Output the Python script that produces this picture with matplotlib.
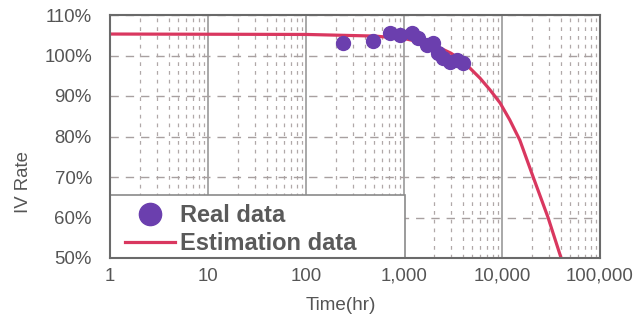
import matplotlib
matplotlib.use("Agg")
import matplotlib.pyplot as plt
from matplotlib.patches import Rectangle
from matplotlib.ticker import FixedLocator, LogLocator, NullFormatter

# ---- data ----
real_time = [240, 480, 720, 910, 1200, 1380, 1700, 1980, 2230, 2500, 2950, 3460, 4000]
real_rate = [103.1, 103.6, 105.5, 105.0, 105.5, 104.3, 102.6, 103.1, 100.6, 99.4, 98.4, 98.9, 98.1]

est_time = [1, 100, 500, 1000, 2000, 3000, 4000, 4700, 5970, 7550, 9550, 12000, 15200, 20800, 29500, 40700]
est_rate = [105.3, 105.2, 104.8, 104.2, 102.6, 100.6, 98.6, 96.9, 94.4, 91.5, 88.3, 84.1, 79.1, 70.0, 60.0, 49.5]

x_ticks = [1, 10, 100, 1000, 10000, 100000]
x_tick_labels = ["1", "10", "100", "1,000", "10,000", "100,000"]
y_ticks = [50, 60, 70, 80, 90, 100, 110]
y_tick_labels = ["50%", "60%", "70%", "80%", "90%", "100%", "110%"]

plt.rcParams['font.family'] = ['Liberation Sans', 'DejaVu Sans']

fig = plt.figure(figsize=(6.41, 3.2), dpi=100)
ax = fig.add_axes([110/641, 1-258/320, 490/641, 243/320])

ax.set_xscale('log')
ax.set_xlim(1, 100000)
ax.set_ylim(50, 110)

# grids
ax.xaxis.set_major_locator(FixedLocator(x_ticks))
ax.xaxis.set_minor_locator(LogLocator(base=10, subs=range(2, 10), numticks=20))
ax.xaxis.set_minor_formatter(NullFormatter())
ax.set_xticklabels(x_tick_labels)
ax.set_yticks(y_ticks)
ax.set_yticklabels(y_tick_labels)

ax.grid(which='major', axis='x', color='#9a9a9a', linestyle='-', linewidth=1.2)
ax.grid(which='minor', axis='x', color='#b0a8a8', linestyle=(0, (3, 4)), linewidth=0.9)
ax.grid(which='major', axis='y', color='#a8a0a0', linestyle=(0, (6, 5)), linewidth=1.0)
ax.set_axisbelow(True)

# legend background box
ax.add_patch(Rectangle((0, 0), 0.602, 0.259, transform=ax.transAxes,
                       facecolor='white', edgecolor='#8a8a8a', linewidth=1.2, zorder=2.5))

ax.plot(est_time, est_rate, color='#d9375f', linewidth=2.3, label='Estimation data', zorder=3)
ax.plot(real_time, real_rate, linestyle='none', marker='o', markersize=10,
        color='#6b3fae', label='Real data', zorder=4)

for s in ax.spines.values():
    s.set_color('#6a6a6a')
    s.set_linewidth(1.5)
    s.set_zorder(6)

ax.tick_params(which='both', length=0, colors='#555555', labelsize=13.4)
ax.tick_params(axis='x', pad=7)
ax.tick_params(axis='y', pad=13)

ax.set_xlabel('Time(hr)', fontsize=13.6, color='#555555')
ax.xaxis.set_label_coords(0.471, -0.160)
ax.set_ylabel('IV Rate', fontsize=13.4, color='#555555')
ax.yaxis.set_label_coords(-0.159, 0.313)

handles, labels = ax.get_legend_handles_labels()
leg = ax.legend([handles[1], handles[0]], [labels[1], labels[0]],
                loc='lower left', bbox_to_anchor=(0.018, -0.012), borderaxespad=0.0,
                frameon=False,
                prop={'weight': 'bold', 'size': 17}, markerscale=1.6,
                handlelength=2.12, handletextpad=0.21, labelspacing=0.22,
                borderpad=0.25)
for t in leg.get_texts():
    t.set_color('#5a5a5a')

fig.savefig('out.png', dpi=100)
